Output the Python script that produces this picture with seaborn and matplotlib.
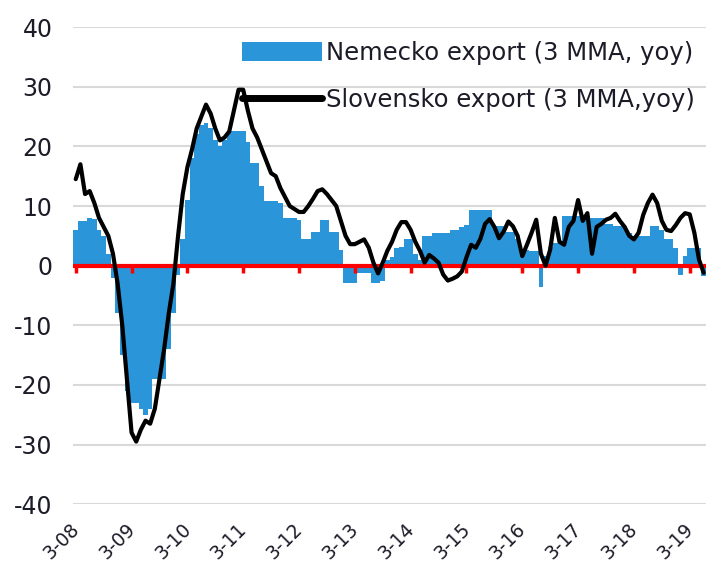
import matplotlib
matplotlib.use('Agg')
import matplotlib.pyplot as plt
import matplotlib.transforms as mtransforms
import pandas as pd
import seaborn as sns

# monthly values, Mar 2008 .. Jun 2019 (3 MMA, yoy, %)
nemecko = [
    6, 7.5, 7.5, 8, 7.8, 6, 5, 2, -2, -8, -15, -21,
    -23, -23, -24, -25, -24, -19, -19, -19, -14, -8, -1.5, 4.5,
    11, 18, 22, 23.5, 24, 23, 21, 20, 21, 22.5, 22.5, 22.5,
    22.5, 20.8, 17.2, 17.2, 13.3, 10.8, 10.8, 10.8, 10.5, 8, 8, 8,
    7.7, 4.4, 4.4, 5.7, 5.7, 7.7, 7.7, 5.7, 5.7, 2.7, -2.9, -2.9,
    -2.9, -1.2, -1.2, -1.2, -2.9, -2.9, -2.6, 1, 1.5, 3, 3.2, 4.4,
    4.4, 2, 1, 4.9, 4.9, 5.5, 5.5, 5.5, 5.5, 6, 6, 6.5,
    6.8, 9.4, 9.4, 9.4, 9.4, 9.4, 6.6, 6.6, 6.6, 5.7, 5.7, 4.4,
    2.7, 2.7, 2.5, 2.5, -3.5, 1.6, 3.2, 3.8, 3.8, 8.3, 8.3, 8.3,
    8.3, 8.3, 8.3, 8, 8, 8, 7, 7, 6.6, 6.6, 6.6, 5.5,
    5, 5, 4.9, 4.9, 6.6, 6.6, 6, 4.4, 4.4, 3, -1.5, 1.6,
    3, 3, 3, -1.7,
]
slovensko = [
    14.5, 17, 12, 12.5, 10.5, 8, 6.5, 5, 2, -3, -10, -19,
    -28, -29.5, -27.5, -26, -26.5, -24, -19, -14, -8, -3, 5, 12,
    16.5, 19.5, 23, 25, 27, 25.5, 23, 21, 21.5, 22.5, 26, 29.5,
    29.5, 26, 23, 21.5, 19.5, 17.5, 15.5, 15, 13, 11.5, 10, 9.5,
    9, 9, 10, 11.2, 12.5, 12.8, 12, 11, 10, 7.5, 5, 3.6,
    3.6, 4, 4.4, 3, 0.5, -1.3, 0.5, 2.5, 4, 6, 7.3, 7.3,
    6, 4, 2.5, 0.5, 1.8, 1.2, 0.5, -1.5, -2.5, -2.2, -1.8, -1,
    1.4, 3.5, 3, 4.5, 7, 7.8, 6.5, 4.6, 5.7, 7.4, 6.6, 5,
    1.6, 3.5, 5.5, 7.7, 2, 0, 2.7, 8, 4, 3.5, 6.5, 7.5,
    11, 7.5, 8.8, 2, 6.5, 7, 7.7, 8, 8.7, 7.5, 6.5, 5,
    4.4, 5.5, 8.5, 10.5, 11.9, 10.5, 7.5, 6, 5.8, 6.8, 8, 8.8,
    8.6, 5.5, 1, -1.2,
]
tick_labels = ['3-08', '3-09', '3-10', '3-11', '3-12', '3-13',
               '3-14', '3-15', '3-16', '3-17', '3-18', '3-19']

df = pd.DataFrame({'month': range(len(nemecko)),
                   'nemecko': nemecko,
                   'slovensko': slovensko})

sns.set_theme(style='white')
plt.rcParams['font.family'] = ['DejaVu Sans']
plt.rcParams['axes.unicode_minus'] = False
text_color = '#1c1c28'

fig = plt.figure(figsize=(7.06, 5.64), dpi=100)
ax = fig.add_axes([0.104, 0.106, 0.896, 0.846])

sns.barplot(data=df, x='month', y='nemecko', native_scale=True, width=1.0,
            color='#2b95d9', saturation=1, errorbar=None, linewidth=0,
            label='Nemecko export (3 MMA, yoy)', zorder=2, ax=ax)
ax.axhline(0, color='#ff0000', lw=3, zorder=3)
ax.vlines(df['month'][::12], -1.3, 0, color='#ff0000', lw=2.5, zorder=3)
sns.lineplot(data=df, x='month', y='slovensko', color='black', lw=3,
             label='Slovensko export (3 MMA,yoy)', zorder=4, ax=ax)

ax.set_xlim(-0.5, len(nemecko) - 0.5)
ax.set_ylim(-40, 40)
ax.set_yticks(range(-40, 41, 10))
ax.set_xticks(df['month'][::12])
ax.set_xticklabels(tick_labels, rotation=45, ha='right', rotation_mode='anchor')
ax.tick_params(axis='x', length=0, pad=11, labelsize=13.5, labelcolor=text_color)
ax.tick_params(axis='y', length=0, pad=15, labelsize=17, labelcolor=text_color)
# nudge rotated labels a little to the left, as in the original
shift = mtransforms.ScaledTranslation(-6 / 100, 0, fig.dpi_scale_trans)
for lbl in ax.get_xticklabels():
    lbl.set_transform(lbl.get_transform() + shift)
ax.set_xlabel('')
ax.set_ylabel('')
ax.grid(axis='y', color='#d9d9d9', lw=1.5)
ax.set_axisbelow(True)
for s in ax.spines.values():
    s.set_visible(False)

handles, labels = ax.get_legend_handles_labels()
order = [labels.index('Nemecko export (3 MMA, yoy)'),
         labels.index('Slovensko export (3 MMA,yoy)')]
leg = ax.legend([handles[k] for k in order], [labels[k] for k in order],
                loc='upper right', bbox_to_anchor=(1.008, 0.958),
                bbox_transform=fig.transFigure, frameon=False, fontsize=17.5,
                handlelength=3.3, handleheight=0.85, handletextpad=0.15,
                labelspacing=0.95, borderpad=0.2)
for t in leg.get_texts():
    t.set_color(text_color)
leg.get_lines()[0].set_linewidth(5)

fig.savefig('out.png', dpi=100)
